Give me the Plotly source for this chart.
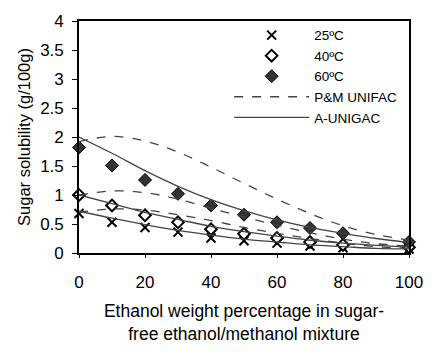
import plotly.graph_objects as go

# Experimental data
x_exp = [0, 10, 20, 30, 40, 50, 60, 70, 80, 100]
y_25 = [0.68, 0.53, 0.44, 0.36, 0.26, 0.21, 0.17, 0.12, 0.09, 0.07]
y_40 = [1.00, 0.82, 0.65, 0.53, 0.41, 0.33, 0.26, 0.19, 0.14, 0.10]
y_60 = [1.82, 1.51, 1.26, 1.02, 0.82, 0.66, 0.53, 0.43, 0.34, 0.19]

# Model curves
x_mod = [0, 10, 20, 30, 40, 50, 60, 70, 80, 90, 100]
pm_25 = [0.70, 0.76, 0.74, 0.66, 0.56, 0.44, 0.34, 0.25, 0.17, 0.11, 0.08]
pm_40 = [1.00, 1.07, 1.04, 0.93, 0.77, 0.62, 0.48, 0.35, 0.24, 0.16, 0.12]
pm_60 = [1.92, 2.01, 1.93, 1.74, 1.48, 1.20, 0.93, 0.68, 0.47, 0.32, 0.22]
au_25 = [0.72, 0.60, 0.49, 0.39, 0.31, 0.24, 0.19, 0.14, 0.11, 0.08, 0.07]
au_40 = [1.00, 0.85, 0.70, 0.58, 0.46, 0.37, 0.29, 0.22, 0.17, 0.13, 0.10]
au_60 = [2.00, 1.72, 1.42, 1.15, 0.92, 0.73, 0.57, 0.44, 0.34, 0.25, 0.18]

x_ticks = [0, 20, 40, 60, 80, 100]
y_ticks = [0, 0.5, 1, 1.5, 2, 2.5, 3, 3.5, 4]
y_tick_text = ["0", "0.5", "1", "1.5", "2", "2.5", "3", "3.5", "4"]

FONT = "Liberation Sans, Arial, sans-serif"
LINE_C = "#444444"

fig = go.Figure()

fig.add_trace(go.Scatter(x=x_exp, y=y_25, mode="markers", name="25ºC",
                         marker=dict(symbol="x-thin-open", size=9, color="black",
                                     line=dict(width=2, color="black")),
                         cliponaxis=False))
fig.add_trace(go.Scatter(x=x_exp, y=y_40, mode="markers", name="40ºC",
                         marker=dict(symbol="diamond", size=9, color="white",
                                     line=dict(width=2, color="black")),
                         cliponaxis=False))
fig.add_trace(go.Scatter(x=x_exp, y=y_60, mode="markers", name="60ºC",
                         marker=dict(symbol="diamond", size=10, color="#333333",
                                     line=dict(width=1, color="black")),
                         cliponaxis=False))

for i, yy in enumerate([pm_25, pm_40, pm_60]):
    fig.add_trace(go.Scatter(x=x_mod, y=yy, mode="lines", name="P&M UNIFAC",
                             legendgroup="pm", showlegend=(i == 0),
                             line=dict(color=LINE_C, width=1.3, dash="dash",
                                       shape="spline")))
for i, yy in enumerate([au_25, au_40, au_60]):
    fig.add_trace(go.Scatter(x=x_mod, y=yy, mode="lines", name="A-UNIGAC",
                             legendgroup="au", showlegend=(i == 0),
                             line=dict(color=LINE_C, width=1.3, shape="spline")))

fig.update_layout(
    width=435, height=355,
    margin=dict(l=79, r=16, t=18, b=102),
    paper_bgcolor="white", plot_bgcolor="white",
    font=dict(family=FONT, color="black"),
    showlegend=True,
    legend=dict(x=0.455, y=1.005, xanchor="left", yanchor="top",
                bgcolor="rgba(0,0,0,0)", font=dict(size=13.5),
                tracegroupgap=0, itemwidth=75),
    xaxis=dict(range=[0, 100], tickvals=x_ticks, ticks="outside", ticklen=3,
               tickwidth=1, tickcolor="black",
               showline=True, linecolor="black", linewidth=1.6, mirror=True,
               showgrid=False, zeroline=False,
               tickfont=dict(size=17), ticklabelstandoff=10,
               title=dict(text="Ethanol weight percentage in sugar-<br>free ethanol/methanol mixture",
                          font=dict(size=17.5), standoff=14)),
    yaxis=dict(range=[0, 4], tickvals=y_ticks, ticktext=y_tick_text,
               ticks="outside", ticklen=5, tickwidth=1, tickcolor="black",
               showline=True, linecolor="black", linewidth=1.6, mirror=True,
               showgrid=False, zeroline=False,
               tickfont=dict(size=17), ticklabelstandoff=5,
               title=dict(text="Sugar solubility (g/100g)", font=dict(size=16.5),
                          standoff=5)),
)

fig.write_html("out.html")
